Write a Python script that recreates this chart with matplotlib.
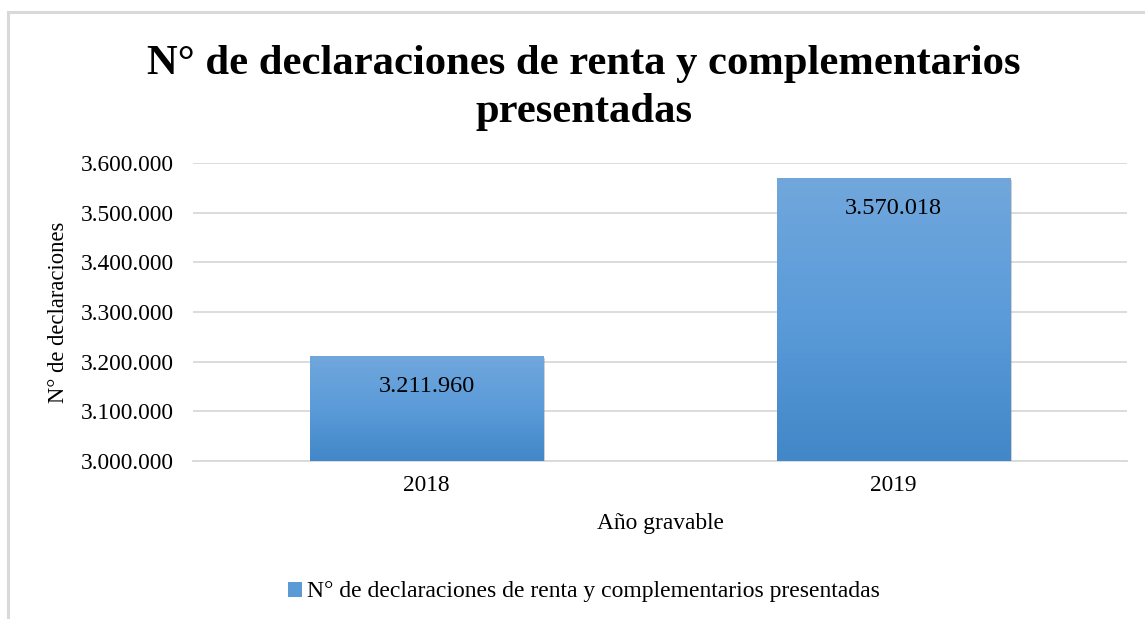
import matplotlib
matplotlib.use("Agg")
import matplotlib.pyplot as plt
import numpy as np
from matplotlib.colors import LinearSegmentedColormap
from matplotlib.patches import Rectangle, Patch
import matplotlib.patheffects as pe

categories = ["2018", "2019"]
values = [3211960, 3570018]
value_labels = ["3.211.960", "3.570.018"]
yticks = [3000000, 3100000, 3200000, 3300000, 3400000, 3500000, 3600000]
ytick_labels = ["3.000.000", "3.100.000", "3.200.000", "3.300.000", "3.400.000", "3.500.000", "3.600.000"]
title = "N° de declaraciones de renta y complementarios\npresentadas"
series_name = "N° de declaraciones de renta y complementarios presentadas"

plt.rcParams['font.family'] = ['Liberation Serif', 'DejaVu Serif']

fig = plt.figure(figsize=(11.45, 6.19), dpi=100)
W, H = 1145, 619
# outer border
fig.patches.append(Rectangle((8 / W, -0.1), 1.2, (H - 12) / H + 0.1, transform=fig.transFigure,
                             fill=False, edgecolor="#d9d9d9", linewidth=2.2, zorder=0))

ax = fig.add_axes([193 / W, 1 - 461 / H, (1127 - 193) / W, (461 - 163) / H])
x = np.arange(len(categories))
ax.set_xlim(-0.5, 1.5)
ax.set_ylim(3000000, 3600000)

cmap = LinearSegmentedColormap.from_list("g", ["#4287c8", "#5b9bd9", "#71a7dc"])
grad = np.linspace(0, 1, 256).reshape(-1, 1)
bars = ax.bar(x, [v - 3000000 for v in values], bottom=3000000, width=0.5, color="#5b9bd5",
              zorder=3, linewidth=0,
              path_effects=[pe.SimplePatchShadow(offset=(1.5, -1.5), shadow_rgbFace="#808080", alpha=0.35),
                            pe.Normal()])
for b in bars:
    im = ax.imshow(grad, extent=(b.get_x(), b.get_x() + b.get_width(), 3000000, b.get_y() + b.get_height()),
                   origin="lower", cmap=cmap, aspect="auto", zorder=4)
    im.set_clip_path(b)

for xi, v, lab in zip(x, values, value_labels):
    ax.annotate(lab, (xi, v), xytext=(0, -22), textcoords="offset points", ha="center", va="center",
                fontsize=17.5, color="#000000", zorder=6)

ax.set_yticks(yticks)
ax.set_yticklabels(ytick_labels, fontsize=16.8)
ax.set_xticks(x)
ax.set_xticklabels(categories, fontsize=16.8)
ax.tick_params(axis="y", length=0, pad=14)
ax.tick_params(axis="x", length=0, pad=10)
ax.grid(axis="y", color="#d9d9d9", linewidth=1.3, zorder=0)
ax.set_axisbelow(True)
for s in ["top", "right", "left"]:
    ax.spines[s].set_visible(False)
ax.spines["bottom"].set_color("#d9d9d9")
ax.spines["bottom"].set_linewidth(1.3)

ax.set_ylabel("N° de declaraciones", fontsize=16.3)
ax.yaxis.set_label_coords(-0.133, 0.5)
ax.set_xlabel("Año gravable", fontsize=16.8, labelpad=12)

fig.text(0.51, 1 - 88 / H, title, ha="center", va="center", fontsize=30.7, fontweight="bold", linespacing=1.36)

fig.legend(handles=[Patch(facecolor="#5b9bd5", edgecolor="none")], labels=[series_name],
           loc="center", bbox_to_anchor=(0.51, 1 - 592 / H), frameon=False, fontsize=17,
           handlelength=0.6, handleheight=0.6, handletextpad=0.2)

fig.savefig("out.png", dpi=100)
